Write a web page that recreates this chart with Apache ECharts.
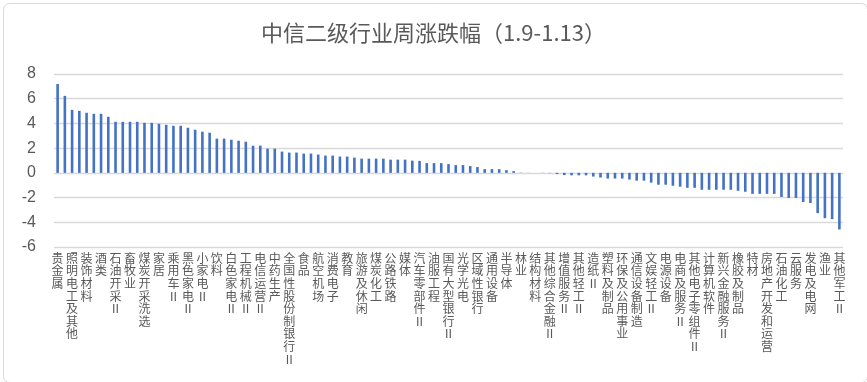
<!DOCTYPE html>
<html>
<head>
<meta charset="utf-8">
<script src="https://cdn.jsdelivr.net/npm/echarts@6/dist/echarts.min.js"></script>
<style>html,body{margin:0;padding:0;background:#fff;}#c{width:867px;height:382px;}</style>
</head>
<body>
<div id="c"></div>
<script>
var titleText = '中信二级行业周涨跌幅（1.9-1.13）';
var categories = [
'贵金属','工业金属','照明电工及其他','稀有金属','装饰材料','普钢','酒类','化学原料','石油开采Ⅱ','化学纤维',
'畜牧业','化学制品','煤炭开采洗选','农用化工','家居','建筑施工','乘用车Ⅱ','建筑装修Ⅱ','黑色家电Ⅱ','建筑设计及服务Ⅱ',
'小家电Ⅱ','水泥','饮料','玻璃','白色家电Ⅱ','包装印刷','工程机械Ⅱ','专用机械','电信运营Ⅱ','仪器仪表Ⅱ',
'中药生产','金属制品Ⅱ','全国性股份制银行Ⅱ','运输设备','食品','电气设备','航空机场','新能源动力系统','消费电子','航空军工',
'教育','航天军工','旅游及休闲','兵器兵装Ⅱ','煤炭化工','商用车','公路铁路','汽车销售及服务Ⅱ','媒体','摩托车及其他Ⅱ',
'汽车零部件Ⅱ','一般零售','油服工程','贸易Ⅱ','国有大型银行Ⅱ','专营连锁','光学光电','专业市场经营Ⅱ','区域性银行','酒店及餐饮',
'通用设备','综合服务','半导体','厨房电器Ⅱ','林业','纺织制造','结构材料','品牌服饰','其他综合金融Ⅱ','化学制药',
'增值服务Ⅱ','生物医药Ⅱ','其他轻工Ⅱ','其他医药医疗','造纸Ⅱ','医疗器械','塑料及制品','医疗服务','环保及公用事业','医药流通',
'通信设备制造','种植业','文娱轻工Ⅱ','农产品加工','电源设备','证券Ⅱ','电商及服务Ⅱ','保险Ⅱ','其他电子零组件Ⅱ','房地产服务',
'计算机软件','物流','新兴金融服务Ⅱ','航运港口','橡胶及制品','元器件','特材','计算机设备','房地产开发和运营','产业互联网',
'石油化工','广告营销','云服务','文化娱乐','发电及电网','互联网媒体','渔业','综合Ⅱ','其他军工Ⅱ'
];
var weeklyChange = [
7.19,6.23,5.10,5.02,4.86,4.78,4.78,4.54,4.13,4.13,
4.13,4.13,4.05,4.05,3.97,3.89,3.81,3.81,3.65,3.49,
3.33,3.25,2.77,2.77,2.68,2.60,2.52,2.20,2.20,1.96,
1.96,1.72,1.64,1.64,1.56,1.56,1.48,1.40,1.40,1.32,
1.32,1.23,1.15,1.15,1.15,1.15,1.07,1.07,1.07,0.99,
0.97,0.79,0.79,0.79,0.71,0.63,0.63,0.55,0.47,0.30,
0.30,0.30,0.22,0.14,0.02,0.01,0.00,-0.01,-0.02,-0.10,
-0.18,-0.20,-0.20,-0.20,-0.30,-0.38,-0.46,-0.46,-0.46,-0.54,
-0.63,-0.63,-0.79,-0.96,-0.96,-1.04,-1.12,-1.21,-1.21,-1.37,
-1.37,-1.37,-1.37,-1.37,-1.45,-1.53,-1.70,-1.70,-1.70,-1.70,
-1.95,-2.03,-2.03,-2.36,-2.44,-3.26,-3.67,-3.75,-4.58
];
var yMin = -6, yMax = 8, yStep = 2;

var chart = echarts.init(document.getElementById('c'));
chart.setOption({
  animation: false,
  backgroundColor: '#ffffff',
  graphic: [{
    type: 'rect', left: 1, top: 1,
    shape: { width: 864, height: 379, r: 6 },
    style: { fill: 'none', stroke: '#d9d9d9', lineWidth: 1 },
    silent: true, z: -1
  }],
  title: {
    text: titleText, left: 'center', top: 17,
    textStyle: { fontFamily: 'Noto Sans CJK SC', fontSize: 22, fontWeight: 'normal', color: '#595959' }
  },
  grid: { left: 54, right: 24, top: 74, bottom: 135, containLabel: false },
  xAxis: {
    type: 'category', data: categories, position: 'bottom', boundaryGap: true,
    axisLine: { show: false }, axisTick: { show: false },
    axisLabel: {
      interval: 1, margin: 5, color: '#595959', fontSize: 12, lineHeight: 12.6,
      fontFamily: 'Noto Sans CJK SC', verticalAlign: 'top',
      formatter: function (v) { return v.split('').join('\n'); }
    }
  },
  yAxis: {
    type: 'value', min: yMin, max: yMax, interval: yStep,
    axisLine: { show: false }, axisTick: { show: false },
    axisLabel: { margin: 18, color: '#595959', fontSize: 16, fontFamily: 'Liberation Sans' },
    splitLine: { lineStyle: { color: '#d9d9d9', width: 1.3 } }
  },
  series: [{
    type: 'bar', data: weeklyChange, barWidth: '36%',
    itemStyle: { color: '#4472C4' }
  }]
});
</script>
</body>
</html>
